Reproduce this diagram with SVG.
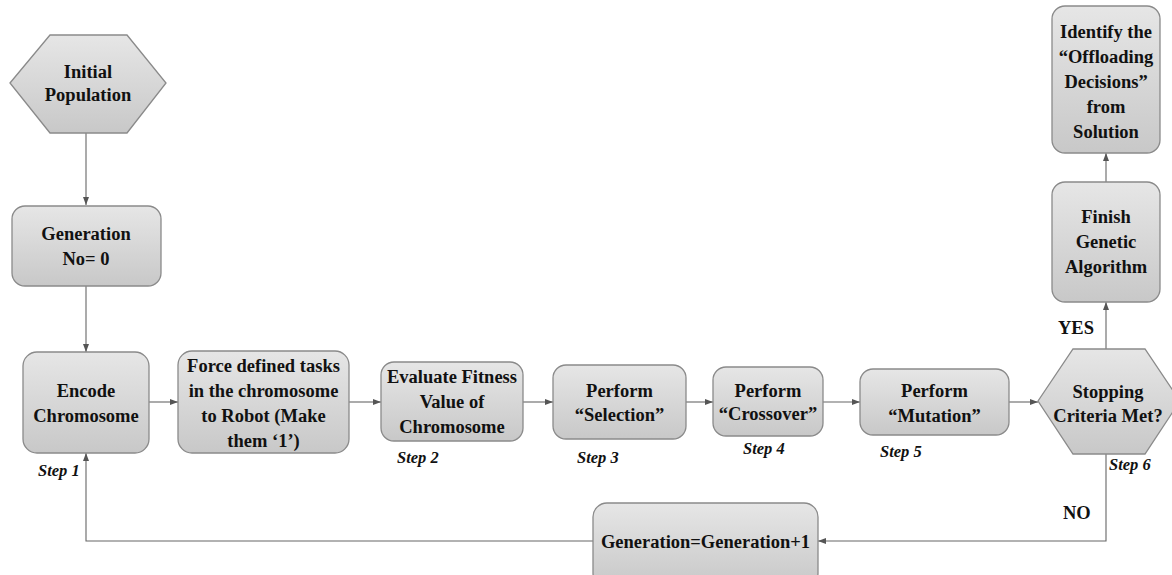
<svg xmlns="http://www.w3.org/2000/svg" width="1172" height="575" viewBox="0 0 1172 575">
<defs>
<linearGradient id="g" x1="0" y1="0" x2="0" y2="1">
<stop offset="0" stop-color="#e6e6e6"/>
<stop offset="1" stop-color="#c8c8c8"/>
</linearGradient>
<marker id="a" markerUnits="userSpaceOnUse" markerWidth="8" markerHeight="6" refX="8" refY="3" orient="auto">
<path d="M0,0 L8,3 L0,6 Z" fill="#555"/>
</marker>
<style>
.n{fill:url(#g);stroke:#8a8a8a;stroke-width:1.3}
.t{font-family:"Liberation Serif","Times New Roman",serif;font-weight:bold;font-size:18.5px;fill:#111;text-anchor:middle}
.s{font-family:"Liberation Serif","Times New Roman",serif;font-weight:bold;font-style:italic;font-size:16.5px;fill:#111}
.l{font-family:"Liberation Serif","Times New Roman",serif;font-weight:bold;font-size:18.5px;fill:#111}
.c{fill:none;stroke:#666;stroke-width:1.1;marker-end:url(#a)}
</style>
</defs>
<rect width="1172" height="575" fill="#fff"/>
<g id="connectors">
<path class="c" d="M86,133 V205"/>
<path class="c" d="M86,286 V352"/>
<path class="c" d="M149,402 H178"/>
<path class="c" d="M349,402 H381"/>
<path class="c" d="M523,402 H553"/>
<path class="c" d="M686,402 H713"/>
<path class="c" d="M823,402 H860"/>
<path class="c" d="M1009,402 H1038"/>
<path class="c" d="M1106,349 V302"/>
<path class="c" d="M1106,182 V153"/>
<path class="c" d="M1106,454 V541 H818"/>
<path class="c" d="M593,541 H86 V453"/>
</g>
<g id="initial">
<polygon class="n" points="10,83 50,35 127,35 166,83 127,133 50,133"/>
<text class="t" x="88" y="78">Initial</text>
<text class="t" x="88" y="101">Population</text>
</g>
<g id="gen0">
<rect class="n" x="12" y="206" width="149" height="80" rx="13"/>
<text class="t" x="86" y="240">Generation</text>
<text class="t" x="86" y="265">No= 0</text>
</g>
<g id="encode">
<rect class="n" x="23" y="352" width="126" height="101" rx="14"/>
<text class="t" x="86" y="397">Encode</text>
<text class="t" x="86" y="422">Chromosome</text>
</g>
<g id="force">
<rect class="n" x="178" y="351" width="171" height="102" rx="14"/>
<text class="t" x="263.5" y="372">Force defined tasks</text>
<text class="t" x="263.5" y="397">in the chromosome</text>
<text class="t" x="263.5" y="422">to Robot (Make</text>
<text class="t" x="263.5" y="447">them ‘1’)</text>
</g>
<g id="evaluate">
<rect class="n" x="381" y="362" width="142" height="79" rx="13"/>
<text class="t" x="452" y="383">Evaluate Fitness</text>
<text class="t" x="452" y="408">Value of</text>
<text class="t" x="452" y="433">Chromosome</text>
</g>
<g id="selection">
<rect class="n" x="553" y="365" width="133" height="74" rx="13"/>
<text class="t" x="619.5" y="397">Perform</text>
<text class="t" x="619.5" y="421">“Selection”</text>
</g>
<g id="crossover">
<rect class="n" x="713" y="367" width="110" height="69" rx="13"/>
<text class="t" x="768" y="397">Perform</text>
<text class="t" x="768" y="420">“Crossover”</text>
</g>
<g id="mutation">
<rect class="n" x="860" y="369" width="149" height="66" rx="13"/>
<text class="t" x="934.5" y="397">Perform</text>
<text class="t" x="934.5" y="422">“Mutation”</text>
</g>
<g id="stopping">
<polygon class="n" points="1038,401 1073,349 1145,349 1180,401 1145,454 1073,454"/>
<text class="t" x="1108" y="398">Stopping</text>
<text class="t" x="1108" y="422">Criteria Met?</text>
</g>
<g id="finish">
<rect class="n" x="1052" y="182" width="108" height="120" rx="13"/>
<text class="t" x="1106" y="223">Finish</text>
<text class="t" x="1106" y="248">Genetic</text>
<text class="t" x="1106" y="273">Algorithm</text>
</g>
<g id="identify">
<rect class="n" x="1052" y="6" width="108" height="147" rx="13"/>
<text class="t" x="1106" y="38">Identify the</text>
<text class="t" x="1106" y="63">“Offloading</text>
<text class="t" x="1106" y="88">Decisions”</text>
<text class="t" x="1106" y="113">from</text>
<text class="t" x="1106" y="138">Solution</text>
</g>
<g id="genplus">
<rect class="n" x="593" y="503" width="225" height="84" rx="14"/>
<text class="t" x="705.5" y="548">Generation=Generation+1</text>
</g>
<g id="labels">
<text class="s" x="38" y="476">Step 1</text>
<text class="s" x="397" y="463">Step 2</text>
<text class="s" x="577" y="463">Step 3</text>
<text class="s" x="743" y="454">Step 4</text>
<text class="s" x="880" y="457">Step 5</text>
<text class="s" x="1109" y="470">Step 6</text>
<text class="l" x="1058" y="334">YES</text>
<text class="l" x="1063" y="519">NO</text>
</g>
</svg>
